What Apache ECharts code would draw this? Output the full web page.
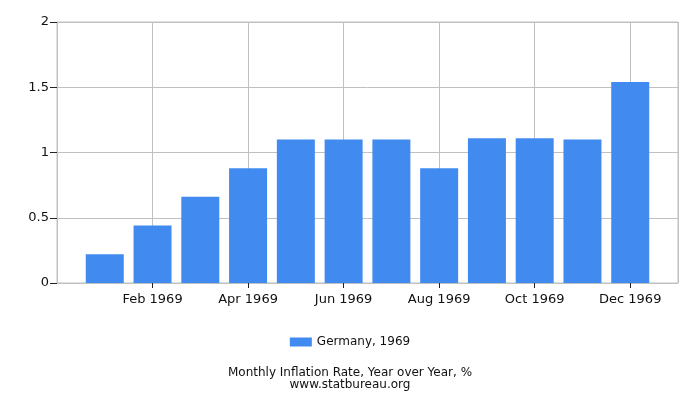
<!DOCTYPE html>
<html><head><meta charset="utf-8">
<script src="https://cdn.jsdelivr.net/npm/echarts@6/dist/echarts.min.js"></script>
<style>html,body{margin:0;padding:0;background:#fff}#c{width:700px;height:400px}</style>
</head><body><div id="c"></div>
<script>
var months = ['Jan 1969','Feb 1969','Mar 1969','Apr 1969','May 1969','Jun 1969','Jul 1969','Aug 1969','Sep 1969','Oct 1969','Nov 1969','Dec 1969'];
var values = [0.22,0.44,0.66,0.88,1.10,1.10,1.10,0.88,1.11,1.11,1.10,1.54];
var yTicks = [0,0.5,1,1.5,2];
var seriesName = 'Germany, 1969';
var titleText = 'Monthly Inflation Rate, Year over Year, %';
var subText = 'www.statbureau.org';

var font = 'DejaVu Sans';
var chart = echarts.init(document.getElementById('c'), null, {renderer:'canvas'});
chart.setOption({
  animation:false,
  textStyle:{fontFamily:font},
  grid:{left:57,right:22,top:22,bottom:117,show:true,borderColor:'#c0c0c0',borderWidth:1,containLabel:false},
  legend:{data:[seriesName],top:331,left:'center',itemWidth:22,itemHeight:9,itemGap:5,
    textStyle:{fontFamily:font,fontSize:12,color:'#111'},icon:'rect'},
  title:{text:titleText,subtext:subText,left:'center',top:362,itemGap:0,
    textStyle:{fontFamily:font,fontSize:12,fontWeight:'normal',color:'#111',lineHeight:11},
    subtextStyle:{fontFamily:font,fontSize:12,color:'#111',lineHeight:11}},
  xAxis:{type:'value',min:0,max:months.length+1,interval:2,
    axisLine:{show:true,lineStyle:{color:'#c0c0c0'}},
    axisTick:{show:true,length:5,lineStyle:{color:'#222'}},
    splitLine:{show:true,lineStyle:{color:'#c0c0c0'}},
    axisLabel:{fontFamily:font,fontSize:13,color:'#111',margin:10,showMinLabel:false,showMaxLabel:false,
      formatter:function(v){var i=Math.round(v)-1;return months[i]||'';}}
  },
  yAxis:{type:'value',min:yTicks[0],max:yTicks[yTicks.length-1],interval:0.5,
    axisLine:{show:true,lineStyle:{color:'#c0c0c0'}},
    axisTick:{show:true,length:7,lineStyle:{color:'#222'}},
    splitLine:{show:true,lineStyle:{color:'#c0c0c0'}},
    axisLabel:{fontFamily:font,fontSize:13,color:'#111',margin:8}
  },
  series:[{name:seriesName,type:'bar',barWidth:38,
    itemStyle:{color:'#418bf0'},
    data:values.map(function(v,i){return [i+1,v];})}]
});
</script></body></html>
